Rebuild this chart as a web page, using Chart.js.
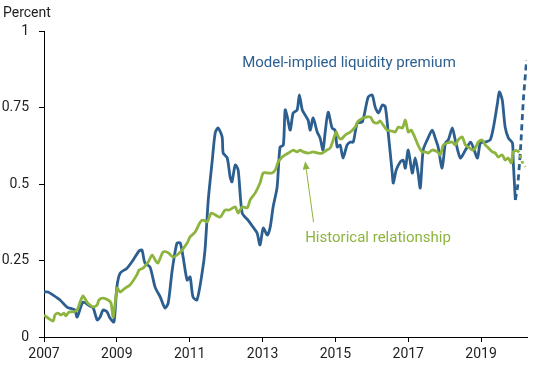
<!DOCTYPE html>
<html>
<head>
<meta charset="utf-8">
<script src="https://cdn.jsdelivr.net/npm/chart.js@4/dist/chart.umd.min.js"></script>
<style>
html,body{margin:0;padding:0;background:#fff;}
#wrap{width:550px;height:365px;position:relative;}
</style>
</head>
<body>
<div id="wrap"><canvas id="c" width="550" height="365"></canvas></div>
<script>
// ---- data ----
const blueYears = [2007.00,2007.11,2007.25,2007.44,2007.63,2007.77,2007.85,2007.91,2008.07,2008.26,2008.35,2008.46,2008.54,2008.62,2008.73,2008.81,2008.92,2009.00,2009.09,2009.28,2009.45,2009.61,2009.69,2009.77,2009.91,2010.05,2010.19,2010.32,2010.41,2010.52,2010.65,2010.74,2010.82,2010.93,2011.01,2011.09,2011.20,2011.34,2011.42,2011.51,2011.62,2011.70,2011.78,2011.89,2011.92,2012.03,2012.11,2012.16,2012.25,2012.33,2012.44,2012.60,2012.74,2012.85,2012.93,2013.02,2013.13,2013.21,2013.29,2013.40,2013.48,2013.57,2013.62,2013.68,2013.76,2013.84,2013.95,2014.01,2014.09,2014.17,2014.25,2014.31,2014.39,2014.50,2014.58,2014.66,2014.72,2014.80,2014.91,2014.99,2015.05,2015.13,2015.21,2015.32,2015.41,2015.49,2015.60,2015.74,2015.90,2016.01,2016.09,2016.18,2016.29,2016.37,2016.45,2016.56,2016.59,2016.67,2016.78,2016.86,2016.92,2017.00,2017.11,2017.19,2017.27,2017.33,2017.41,2017.52,2017.66,2017.74,2017.82,2017.93,2018.02,2018.10,2018.21,2018.29,2018.43,2018.57,2018.71,2018.79,2018.90,2018.98,2019.12,2019.25,2019.34,2019.45,2019.50,2019.58,2019.66,2019.75,2019.86,2019.88,2019.94];
const blueValues = [0.147,0.147,0.137,0.121,0.098,0.092,0.088,0.065,0.114,0.101,0.095,0.056,0.065,0.088,0.082,0.062,0.049,0.163,0.209,0.225,0.252,0.281,0.284,0.242,0.229,0.163,0.131,0.095,0.111,0.219,0.307,0.307,0.261,0.186,0.196,0.131,0.121,0.209,0.284,0.448,0.578,0.667,0.683,0.654,0.601,0.585,0.523,0.507,0.562,0.546,0.405,0.382,0.359,0.340,0.301,0.356,0.333,0.359,0.425,0.490,0.621,0.627,0.742,0.719,0.676,0.732,0.742,0.791,0.742,0.725,0.709,0.676,0.716,0.670,0.650,0.611,0.670,0.735,0.683,0.676,0.621,0.627,0.585,0.627,0.637,0.637,0.699,0.703,0.784,0.791,0.752,0.732,0.758,0.752,0.667,0.536,0.503,0.546,0.572,0.578,0.552,0.611,0.536,0.585,0.536,0.487,0.611,0.644,0.676,0.650,0.621,0.552,0.634,0.644,0.683,0.644,0.585,0.611,0.637,0.618,0.585,0.634,0.637,0.644,0.686,0.765,0.801,0.775,0.686,0.650,0.634,0.578,0.448];
const blueProjYears = [2019.94,2020.00,2020.08,2020.16,2020.25];
const blueProjValues = [0.448,0.490,0.611,0.775,0.905];

const greenYears = [2007.00,2007.11,2007.25,2007.30,2007.38,2007.47,2007.55,2007.60,2007.69,2007.80,2007.91,2007.99,2008.07,2008.18,2008.26,2008.35,2008.46,2008.51,2008.62,2008.76,2008.84,2008.90,2009.01,2009.09,2009.23,2009.36,2009.55,2009.61,2009.72,2009.86,2009.97,2010.05,2010.13,2010.27,2010.41,2010.54,2010.65,2010.79,2010.93,2011.01,2011.15,2011.29,2011.37,2011.48,2011.59,2011.70,2011.84,2011.97,2012.08,2012.25,2012.33,2012.44,2012.58,2012.66,2012.80,2012.93,2013.02,2013.15,2013.26,2013.35,2013.43,2013.54,2013.62,2013.76,2013.84,2013.95,2014.03,2014.12,2014.25,2014.39,2014.53,2014.64,2014.77,2014.86,2014.94,2015.02,2015.08,2015.16,2015.27,2015.41,2015.54,2015.63,2015.76,2015.87,2015.96,2016.04,2016.15,2016.23,2016.31,2016.42,2016.56,2016.64,2016.73,2016.84,2016.92,2017.00,2017.08,2017.19,2017.27,2017.38,2017.47,2017.55,2017.66,2017.80,2017.88,2017.96,2018.07,2018.21,2018.29,2018.37,2018.48,2018.57,2018.65,2018.76,2018.84,2018.92,2019.03,2019.12,2019.20,2019.31,2019.39,2019.47,2019.58,2019.66,2019.74,2019.83,2019.88,2019.99];
const greenValues = [0.072,0.062,0.052,0.072,0.078,0.072,0.078,0.069,0.082,0.082,0.088,0.114,0.134,0.114,0.105,0.098,0.105,0.121,0.127,0.121,0.111,0.065,0.160,0.147,0.160,0.170,0.203,0.219,0.225,0.245,0.268,0.252,0.242,0.278,0.275,0.261,0.268,0.284,0.307,0.327,0.343,0.376,0.382,0.376,0.405,0.399,0.392,0.415,0.415,0.425,0.405,0.425,0.422,0.448,0.471,0.503,0.536,0.536,0.536,0.546,0.572,0.588,0.595,0.605,0.611,0.605,0.611,0.605,0.601,0.605,0.601,0.601,0.611,0.618,0.644,0.670,0.654,0.647,0.660,0.670,0.686,0.706,0.716,0.719,0.719,0.703,0.699,0.706,0.693,0.676,0.673,0.670,0.686,0.683,0.709,0.670,0.676,0.650,0.627,0.605,0.605,0.601,0.611,0.605,0.595,0.627,0.634,0.637,0.627,0.644,0.654,0.627,0.621,0.611,0.618,0.637,0.644,0.627,0.618,0.605,0.601,0.588,0.595,0.578,0.585,0.569,0.605,0.611];
const greenProjYears = [2019.99,2020.05,2020.13,2020.21];
const greenProjValues = [0.611,0.601,0.572,0.556];

const xTickYears = [2007,2009,2011,2013,2015,2017,2019];
const yTickValues = [0,0.25,0.5,0.75,1];
const xMin = 2007, xMax = 2020.26;

const unitLabel = "Percent";
const blueLabel = "Model-implied liquidity premium";
const greenLabel = "Historical relationship";
// annotation anchors in data coordinates
const blueLabelAt = {x: 2012.44, y: 0.882};
const greenLabelAt = {x: 2014.17, y: 0.312};
const arrowFrom = {x: 2014.40, y: 0.375};
const arrowTo = {x: 2014.17, y: 0.574};

const BLUE = '#2c5f8f';
const GREEN = '#8db43e';
const TEXT = '#1e1e1e';

const pts = (xs, ys) => xs.map((x, i) => ({x: x, y: ys[i]}));

Chart.defaults.font.family = 'Roboto';
Chart.defaults.font.size = 14;
Chart.defaults.color = TEXT;

const annot = {
  id: 'annot',
  afterDatasetsDraw(chart) {
    const {ctx, scales: {x, y}} = chart;
    ctx.save();
    ctx.textBaseline = 'alphabetic';
    ctx.textAlign = 'left';
    ctx.font = '14px Roboto';
    ctx.fillStyle = TEXT;
    ctx.fillText(unitLabel, 3, 17);
    ctx.font = '15px Roboto';
    ctx.fillStyle = BLUE;
    ctx.fillText(blueLabel, x.getPixelForValue(blueLabelAt.x), y.getPixelForValue(blueLabelAt.y));
    ctx.fillStyle = GREEN;
    ctx.fillText(greenLabel, x.getPixelForValue(greenLabelAt.x), y.getPixelForValue(greenLabelAt.y));
    // arrow
    const x1 = x.getPixelForValue(arrowFrom.x), y1 = y.getPixelForValue(arrowFrom.y);
    const x2 = x.getPixelForValue(arrowTo.x), y2 = y.getPixelForValue(arrowTo.y);
    const ang = Math.atan2(y2 - y1, x2 - x1);
    const L = 8, W = 3.5;
    const bx = x2 - L * Math.cos(ang), by = y2 - L * Math.sin(ang);
    ctx.strokeStyle = GREEN;
    ctx.lineWidth = 1;
    ctx.beginPath();
    ctx.moveTo(x1, y1);
    ctx.lineTo(bx, by);
    ctx.stroke();
    ctx.beginPath();
    ctx.moveTo(x2, y2);
    ctx.lineTo(bx + W * Math.sin(ang), by - W * Math.cos(ang));
    ctx.lineTo(bx - W * Math.sin(ang), by + W * Math.cos(ang));
    ctx.closePath();
    ctx.fill();
    ctx.restore();
  }
};

new Chart(document.getElementById('c'), {
  type: 'line',
  data: {
    datasets: [
      {data: pts(greenYears, greenValues), borderColor: GREEN, borderWidth: 2.8, pointRadius: 0, tension: 0.25, fill: false},
      {data: pts(greenProjYears, greenProjValues), borderColor: GREEN, borderWidth: 2.8, borderDash: [3, 3], pointRadius: 0, tension: 0.25, fill: false},
      {data: pts(blueYears, blueValues), borderColor: BLUE, borderWidth: 2.8, pointRadius: 0, tension: 0.25, fill: false},
      {data: pts(blueProjYears, blueProjValues), borderColor: BLUE, borderWidth: 2.8, borderDash: [6, 4], pointRadius: 0, tension: 0.25, fill: false}
    ]
  },
  options: {
    responsive: false,
    animation: false,
    events: [],
    layout: {padding: {top: 31, right: 23, left: 0, bottom: 0}},
    plugins: {legend: {display: false}, tooltip: {enabled: false}, title: {display: false}},
    scales: {
      x: {
        type: 'linear', min: xMin, max: xMax,
        afterBuildTicks: s => { s.ticks = xTickYears.map(v => ({value: v})); },
        afterFit: s => { s.height = 28; },
        ticks: {callback: v => String(v), padding: 4, maxRotation: 0, autoSkip: false, color: TEXT, font: {size: 14}},
        grid: {display: true, drawOnChartArea: false, drawTicks: true, tickLength: 5, color: '#000', lineWidth: 1},
        border: {display: true, color: '#000', width: 1}
      },
      y: {
        type: 'linear', min: 0, max: 1,
        afterBuildTicks: s => { s.ticks = yTickValues.map(v => ({value: v})); },
        afterFit: s => { s.width = 44; },
        ticks: {callback: v => String(v), padding: 10, color: TEXT, font: {size: 14}},
        grid: {display: true, drawOnChartArea: false, drawTicks: true, tickLength: 5, color: '#000', lineWidth: 1},
        border: {display: true, color: '#000', width: 1}
      }
    }
  },
  plugins: [annot]
});
</script>
</body>
</html>
